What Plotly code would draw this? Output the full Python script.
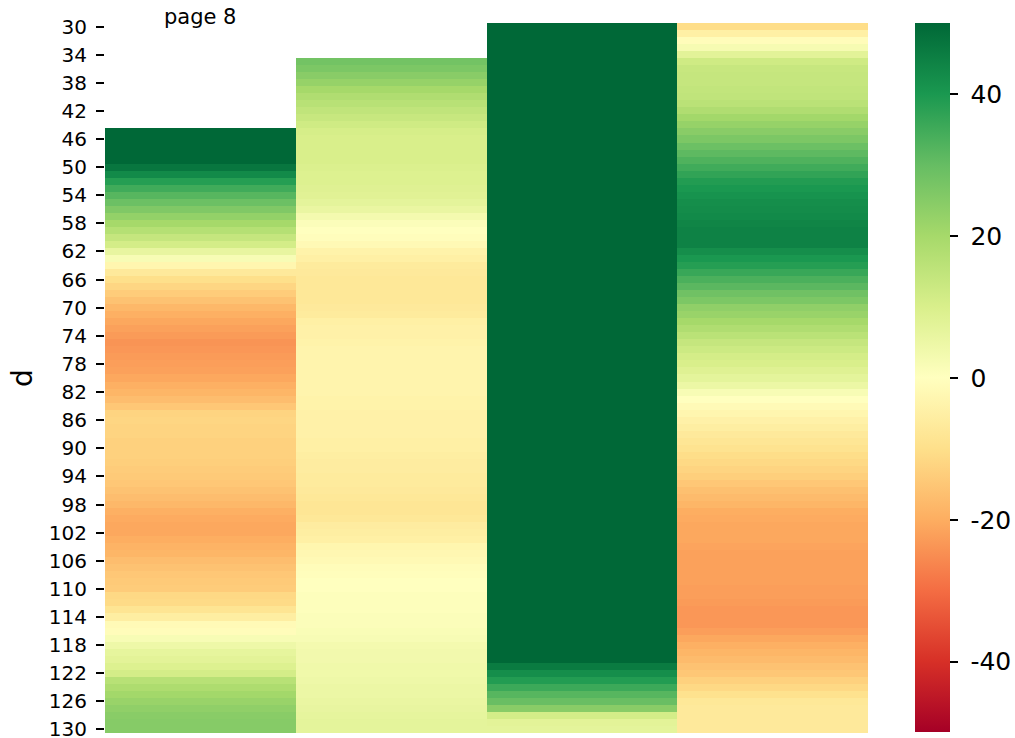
import plotly.graph_objects as go

# Row labels (d) and column labels
d_values = list(range(30, 131))
columns = ["page 8", "", " ", "  "]

col1 = [None] * 15 + [
    62, 60, 57, 54, 51,            # 45-49
    47, 43, 38.5, 35, 32,          # 50-54
    29, 26, 23, 20, 17,            # 55-59
    14, 11, 6, 2, -3,              # 60-64
    -7, -10, -12, -14, -16,        # 65-69
    -18, -19.5, -21, -22, -23,     # 70-74
    -24, -23.5, -23, -22.5, -22,   # 75-79
    -21, -19.5, -18.5, -17, -15,   # 80-84
    -12.5, -12, -12.5, -12.5, -13, # 85-89
    -13, -13, -13.5, -14, -14.5,   # 90-94
    -15, -16, -17, -18, -19.5,     # 95-99
    -20.5, -21, -21, -20, -19,     # 100-104
    -18.5, -17, -16, -15, -14.5,   # 105-109
    -14, -11.5, -11, -8.5, -5.5,   # 110-114
    -1.5, -1, 2, 4.5, 6.5,         # 115-119
    7.5, 9, 11, 16.5, 18.5,        # 120-124
    20.5, 22, 23.5, 24.5, 25,      # 125-129
    25,                            # 130
]

col2 = [None] * 5 + [
    28, 26.5, 24.5, 22.5, 20,      # 35-39
    18, 16.5, 15, 13.5, 12,        # 40-44
    10.5, 10, 10, 10, 10,          # 45-49
    9.5, 9, 9, 8.5, 8,             # 50-54
    7, 5.5, 3, 1, 0,               # 55-59
    -0.5, -2, -4, -5, -6.5,        # 60-64
    -7, -7.5, -7.5, -7.5, -7.5,    # 65-69
    -7, -6.5, -5, -4.5, -4.5,      # 70-74
    -4, -3.5, -3.5, -3.5, -3.5,    # 75-79
    -3.5, -3.5, -3.5, -4, -4,      # 80-84
    -4.5, -4.5, -4.5, -4.5, -5,    # 85-89
    -5, -5.5, -6, -6, -6.5,        # 90-94
    -6.5, -7, -7.5, -8, -8,        # 95-99
    -7.5, -6, -5.5, -5, -3,        # 100-104
    -2.5, -2, -1, -0.5, 0,         # 105-109
    0, 0.5, 0.5, 0.5, 1,           # 110-114
    1, 1.5, 2, 3, 3.5,             # 115-119
    3.5, 4, 4, 4.5, 5,             # 120-124
    5, 5.5, 6, 6.5, 7,             # 125-129
    7,                             # 130
]

col3 = [
    60, 60, 60, 60, 60, 60, 60, 60, 60, 60,   # 30-39
    60, 60, 60, 60, 60, 60, 60, 60, 60, 60,   # 40-49
    60, 60, 60, 60, 60, 60, 60, 60, 60, 60,   # 50-59
    60, 60, 60, 60, 60, 60, 60, 60, 60, 60,   # 60-69
    60, 60, 60, 60, 60, 60, 60, 60, 60, 60,   # 70-79
    60, 60, 60, 60, 60, 60, 60, 60, 60, 60,   # 80-89
    60, 60, 60, 60, 60, 60, 60, 60, 60, 60,   # 90-99
    60, 60, 60, 60, 60, 60, 60, 60, 60, 60,   # 100-109
    60, 60, 60, 60, 60, 60, 60, 60, 60, 60,   # 110-119
    58, 46, 42, 39, 35.5, 32, 29.5, 24.5, 11, 7.5,  # 120-129
    7,                                        # 130
]

col4 = [
    -10.5, -5, -1, 2.5, 7.5,       # 30-34
    12, 13.5, 14, 14, 14.5,        # 35-39
    15, 16, 18, 20.5, 22.5,        # 40-44
    24.5, 26.5, 29, 31, 33,        # 45-49
    35, 37, 39, 40, 41,            # 50-54
    42, 42.5, 43, 44, 44.5,        # 55-59
    44.5, 44.5, 42, 40, 38.5,      # 60-64
    36, 33.5, 31.5, 28.5, 26.5,    # 65-69
    23.5, 22, 20, 18, 16,          # 70-74
    14, 12.5, 11, 10, 8.5,         # 75-79
    7, 5, 2, 0, -1.5,              # 80-84
    -3, -4.5, -5.5, -7, -8,        # 85-89
    -9, -10.5, -11.5, -12.5, -13.5,  # 90-94
    -15, -16.5, -17.5, -18.5, -20, # 95-99
    -20.5, -21, -21, -21, -21.5,   # 100-104
    -22, -22, -22, -22, -22,       # 105-109
    -22.5, -22.5, -23, -23.5, -23.5,  # 110-114
    -23.5, -22.5, -21, -19.5, -18.5,  # 115-119
    -17.5, -16, -15, -13, -11.5,   # 120-124
    -9.5, -7.5, -7, -7, -7,        # 125-129
    -7,                            # 130
]

z = [[c1, c2, c3, c4] for c1, c2, c3, c4 in zip(col1, col2, col3, col4)]

cbar_ticks = [40, 20, 0, -20, -40]
cbar_text = ["40", "20", "0", "-20", "-40"]
y_ticks = list(range(30, 131, 4))

fig = go.Figure(
    go.Heatmap(
        z=z,
        x=[0, 1, 2, 3],
        y=d_values,
        colorscale="RdYlGn",
        zmin=-50,
        zmax=50,
        hoverongaps=False,
        colorbar=dict(
            x=(915 - 105) / 763,
            xanchor="left",
            xpad=0,
            ypad=0,
            y=0.5,
            yanchor="middle",
            len=709,
            lenmode="pixels",
            thickness=35,
            outlinewidth=0,
            tickvals=cbar_ticks,
            ticktext=["\u00a0" + t for t in cbar_text],
            ticks="outside",
            ticklen=8,
            tickwidth=1.6,
            tickcolor="black",
            tickfont=dict(family="DejaVu Sans", size=25, color="black"),
        ),
    )
)

fig.update_layout(
    width=1015,
    height=738,
    margin=dict(l=105, r=147, t=23, b=5, autoexpand=False),
    paper_bgcolor="white",
    plot_bgcolor="white",
    font=dict(family="DejaVu Sans", color="black"),
    showlegend=False,
)

fig.update_xaxes(
    range=[-0.5, 3.5],
    showticklabels=False,
    ticks="",
    showgrid=False,
    zeroline=False,
    showline=False,
    automargin=False,
)

fig.update_yaxes(
    autorange=False,
    range=[130.5, 29.5],
    tickvals=y_ticks,
    ticktext=[str(v) for v in y_ticks],
    ticks="outside",
    ticklen=8,
    tickwidth=1.6,
    tickcolor="black",
    ticklabelstandoff=5,
    ticklabeloverflow="allow",
    automargin=False,
    tickfont=dict(family="DejaVu Sans", size=20, color="black"),
    showgrid=False,
    zeroline=False,
    showline=False,
    title=dict(text="d", font=dict(family="DejaVu Sans", size=28, color="black"), standoff=8),
)

fig.add_annotation(
    text="page 8",
    x=0,
    xref="x",
    y=1,
    yref="paper",
    yanchor="middle",
    yshift=6,
    showarrow=False,
    font=dict(family="DejaVu Sans", size=21, color="black"),
)

fig.write_html(
    "out.html",
    config={"displayModeBar": False},
    post_script="document.body.style.margin='0';document.body.style.padding='0';",
)
